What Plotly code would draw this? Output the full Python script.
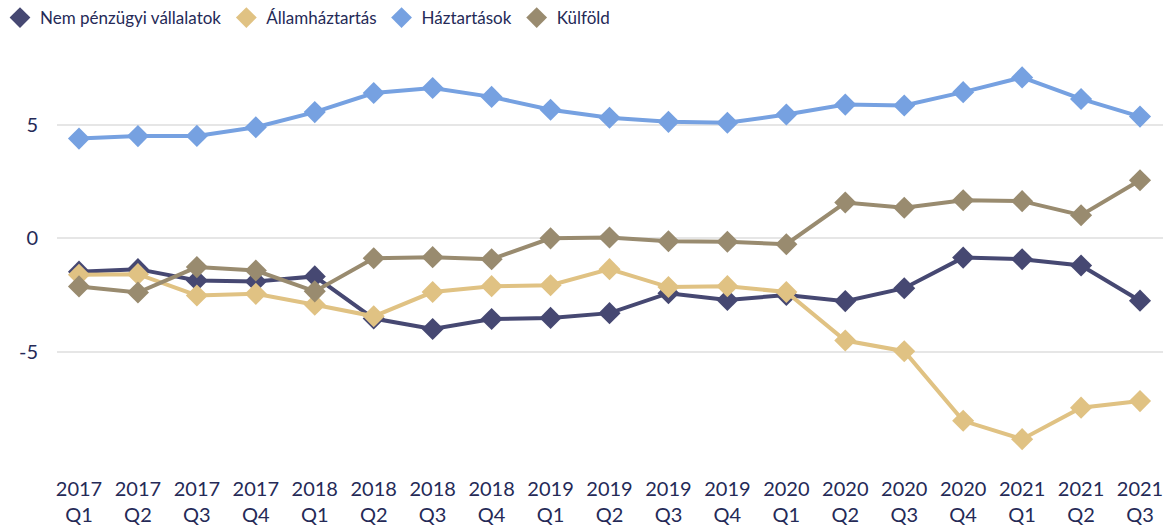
import plotly.graph_objects as go

categories = ["2017<br>Q1", "2017<br>Q2", "2017<br>Q3", "2017<br>Q4",
              "2018<br>Q1", "2018<br>Q2", "2018<br>Q3", "2018<br>Q4",
              "2019<br>Q1", "2019<br>Q2", "2019<br>Q3", "2019<br>Q4",
              "2020<br>Q1", "2020<br>Q2", "2020<br>Q3", "2020<br>Q4",
              "2021<br>Q1", "2021<br>Q2", "2021<br>Q3"]

nem_penzugyi = [-1.47, -1.36, -1.86, -1.90, -1.68, -3.54, -4.00, -3.56, -3.51, -3.30,
                -2.42, -2.72, -2.50, -2.77, -2.20, -0.85, -0.92, -1.20, -2.75]
allamhaztartas = [-1.61, -1.58, -2.52, -2.45, -2.93, -3.44, -2.37, -2.11, -2.07, -1.36,
                  -2.15, -2.11, -2.37, -4.51, -4.98, -8.05, -8.86, -7.47, -7.18]
haztartasok = [4.40, 4.51, 4.52, 4.90, 5.57, 6.41, 6.63, 6.24, 5.67, 5.32,
               5.14, 5.10, 5.46, 5.90, 5.86, 6.45, 7.10, 6.15, 5.37]
kulfold = [-2.12, -2.39, -1.27, -1.42, -2.34, -0.88, -0.83, -0.92, 0.00, 0.04,
           -0.13, -0.15, -0.26, 1.58, 1.35, 1.68, 1.64, 1.02, 2.56]

series = [
    ("Nem pénzügyi vállalatok", nem_penzugyi, "#464872"),
    ("Államháztartás", allamhaztartas, "#e0c283"),
    ("Háztartások", haztartasok, "#76a1e1"),
    ("Külföld", kulfold, "#998b6f"),
]

FONT = "Lato"
TXT = "#252a57"

fig = go.Figure()
x_idx = list(range(len(categories)))
for name, vals, col in series:
    fig.add_trace(go.Scatter(
        x=x_idx, y=vals, mode="lines+markers", name=name, showlegend=False,
        line=dict(color=col, width=4),
        marker=dict(symbol="diamond", size=17, color=col),
    ))
for name, vals, col in series:
    fig.add_trace(go.Scatter(
        x=[None], y=[None], mode="markers", name=name, showlegend=True,
        marker=dict(symbol="diamond", size=17, color=col),
    ))

fig.update_layout(
    width=1165, height=528,
    paper_bgcolor="white", plot_bgcolor="white",
    margin=dict(l=57, r=2, t=57, b=61),
    font=dict(family=FONT, size=20, color=TXT),
    legend=dict(orientation="h", x=-0.006, y=1.0, xref="container", yref="container",
                xanchor="left", yanchor="top", font=dict(size=17, color=TXT),
                itemwidth=30, tracegroupgap=0, bgcolor="rgba(0,0,0,0)"),
    xaxis=dict(range=[-0.373, 18.39], tickmode="array", tickvals=x_idx,
               ticktext=categories, showgrid=False, zeroline=False,
               showline=False, ticks="", ticklabelstandoff=10,
               tickfont=dict(size=20, color=TXT)),
    yaxis=dict(range=[-10, 8], tickvals=[-5, 0, 5], ticktext=["-5", "0", "5"],
               showgrid=True, gridcolor="#e6e6e6", gridwidth=2, zeroline=False,
               ticks="", ticklabelstandoff=18, tickfont=dict(size=20, color=TXT)),
)

fig.write_html("out.html", config={"displayModeBar": False},
               post_script="document.body.style.margin='0';document.body.style.padding='0';")
